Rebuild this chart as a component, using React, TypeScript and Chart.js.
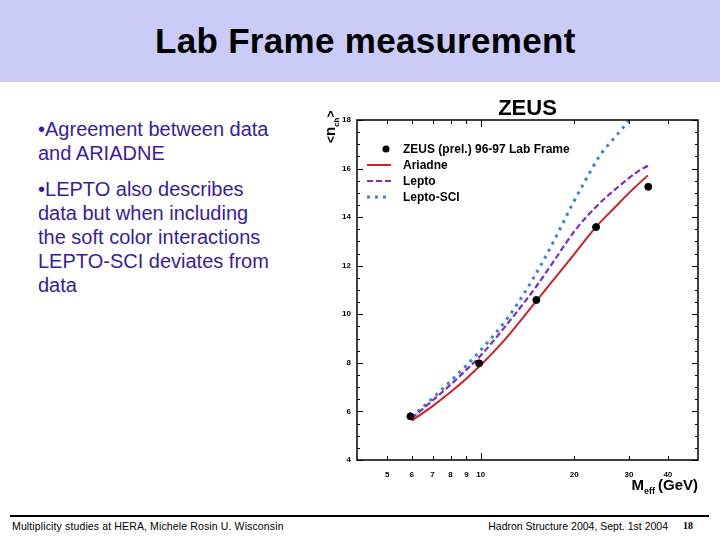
import React, { useEffect, useRef } from "react";
import { Chart, registerables } from "chart.js";

Chart.register(...registerables);

// ZEUS (prel.) 96-97 Lab Frame data
const dataMeff = [5.94, 9.88, 15.1, 23.5, 34.6];
const dataNch = [5.8, 7.98, 10.59, 13.59, 15.25];

// Ariadne
const ariadneMeff = [6, 7, 8, 9, 10, 12, 15, 20, 23.5, 27, 30, 34.5];
const ariadneNch = [5.62, 6.22, 6.8, 7.36, 7.91, 8.98, 10.5, 12.48, 13.6, 14.4, 15.0, 15.72];

// Lepto
const leptoMeff = [6, 7, 8, 9, 10, 12.26, 15, 17, 20.1, 23.6, 27.4, 31.8, 34.5];
const leptoNch = [5.72, 6.45, 7.1, 7.72, 8.3, 9.65, 11.1, 12.1, 13.45, 14.45, 15.2, 15.85, 16.12];

// Lepto-SCI
const leptoSciMeff = [6, 7, 8, 9, 10, 12.26, 13.7, 15.9, 18, 19.85, 21.9, 24.2, 27.4, 29.8, 30.3];
const leptoSciNch = [5.78, 6.54, 7.25, 7.9, 8.52, 9.88, 10.8, 12.2, 13.52, 14.6, 15.6, 16.55, 17.38, 17.93, 18.05];

const seriesLabels = ["ZEUS (prel.) 96-97 Lab Frame", "Ariadne", "Lepto", "Lepto-SCI"];

// axes
const xTickValues = [5, 6, 7, 8, 9, 10, 20, 30, 40];
const xMajorTick = 10;
const xMin = 4;
const xMax = 50;
const yMin = 4;
const yMax = 18;
const yStep = 2;
const yMinorStep = 0.5;

const FONT = '"Liberation Sans", Arial, Helvetica, sans-serif';

const toPts = (xs: number[], ys: number[]) => xs.map((x, i) => ({ x, y: ys[i] }));

const decorPlugin = {
  id: "decor",
  afterDraw(chart: any) {
    const { ctx, chartArea: a, scales } = chart;
    const xs = scales.x;
    const ys = scales.y;
    ctx.save();
    ctx.strokeStyle = "#000";
    ctx.lineWidth = 1.5;
    ctx.strokeRect(a.left, a.top, a.right - a.left, a.bottom - a.top);
    ctx.lineWidth = 1;
    ctx.beginPath();
    for (let v = yMin; v <= yMax + 1e-9; v += yMinorStep) {
      const y = Math.round(ys.getPixelForValue(v)) + 0.5;
      const len = Math.abs(v % yStep) < 1e-9 ? 6 : 3;
      ctx.moveTo(a.left, y);
      ctx.lineTo(a.left + len, y);
      ctx.moveTo(a.right, y);
      ctx.lineTo(a.right - len, y);
    }
    xTickValues.forEach((v) => {
      const x = Math.round(xs.getPixelForValue(v)) + 0.5;
      const len = v === xMajorTick ? 7 : 4;
      ctx.moveTo(x, a.bottom);
      ctx.lineTo(x, a.bottom - len);
      ctx.moveTo(x, a.top);
      ctx.lineTo(x, a.top + len);
    });
    ctx.stroke();

    // heading
    ctx.fillStyle = "#000";
    ctx.font = `bold 22px ${FONT}`;
    ctx.textAlign = "center";
    ctx.textBaseline = "alphabetic";
    ctx.fillText("ZEUS", (a.left + a.right) / 2, a.top - 5);

    // legend
    const ds = chart.data.datasets;
    ctx.font = `bold 12px ${FONT}`;
    ctx.textAlign = "left";
    ctx.textBaseline = "middle";
    ds.forEach((d: any, i: number) => {
      const y = a.top + 29 + i * 16;
      if (i === 0) {
        ctx.beginPath();
        ctx.fillStyle = d.backgroundColor;
        ctx.arc(a.left + 29, y, 3.5, 0, Math.PI * 2);
        ctx.fill();
      } else {
        ctx.beginPath();
        ctx.strokeStyle = d.borderColor;
        ctx.lineWidth = d.borderWidth;
        ctx.setLineDash(d.borderDash || []);
        ctx.moveTo(a.left + 10, y);
        ctx.lineTo(a.left + 34, y);
        ctx.stroke();
        ctx.setLineDash([]);
      }
      ctx.fillStyle = "#000";
      ctx.fillText(d.label, a.left + 46, y + 1);
    });

    // x axis title
    ctx.textBaseline = "alphabetic";
    ctx.textAlign = "left";
    const base = a.bottom + 30;
    ctx.font = `bold 15px ${FONT}`;
    const wGeV = ctx.measureText("(GeV)").width;
    const wM = ctx.measureText("M").width;
    ctx.font = `bold 9px ${FONT}`;
    const wEff = ctx.measureText("eff").width;
    let x = a.right - wGeV;
    ctx.font = `bold 15px ${FONT}`;
    ctx.fillText("(GeV)", x, base);
    x -= 3 + wEff;
    ctx.font = `bold 9px ${FONT}`;
    ctx.fillText("eff", x, base + 4);
    x -= wM;
    ctx.font = `bold 15px ${FONT}`;
    ctx.fillText("M", x, base);

    // y axis title (rotated)
    ctx.save();
    ctx.translate(a.left - 22, a.top + 23);
    ctx.rotate(-Math.PI / 2);
    let t = 0;
    ctx.font = `bold 12px ${FONT}`;
    ctx.fillText("<", t, 0);
    t += ctx.measureText("<").width;
    ctx.font = `bold 15px ${FONT}`;
    ctx.fillText("n", t, 0);
    t += ctx.measureText("n").width;
    ctx.font = `bold 8px ${FONT}`;
    ctx.fillText("ch", t, 4);
    t += ctx.measureText("ch").width;
    ctx.font = `bold 12px ${FONT}`;
    ctx.fillText(">", t, 0);
    ctx.restore();

    ctx.restore();
  },
};

function ZeusChart() {
  const ref = useRef<HTMLCanvasElement | null>(null);
  useEffect(() => {
    if (!ref.current) return;
    const chart = new Chart(ref.current, {
      type: "scatter",
      data: {
        datasets: [
          {
            label: seriesLabels[0],
            data: toPts(dataMeff, dataNch),
            showLine: false,
            pointRadius: 3.5,
            pointBackgroundColor: "#000",
            pointBorderColor: "#000",
            backgroundColor: "#000",
            borderColor: "#000",
          },
          {
            label: seriesLabels[1],
            data: toPts(ariadneMeff, ariadneNch),
            showLine: true,
            pointRadius: 0,
            borderColor: "#cc2226",
            borderWidth: 2,
            cubicInterpolationMode: "monotone",
          },
          {
            label: seriesLabels[2],
            data: toPts(leptoMeff, leptoNch),
            showLine: true,
            pointRadius: 0,
            borderColor: "#7a2cc4",
            borderWidth: 2.2,
            borderDash: [6, 3],
            cubicInterpolationMode: "monotone",
          },
          {
            label: seriesLabels[3],
            data: toPts(leptoSciMeff, leptoSciNch),
            showLine: true,
            pointRadius: 0,
            borderColor: "#3a86c8",
            borderWidth: 3,
            borderDash: [3, 5],
            cubicInterpolationMode: "monotone",
          },
        ],
      },
      options: {
        animation: false,
        responsive: false,
        devicePixelRatio: 1,
        layout: { padding: { top: 35, right: 22, left: 0, bottom: 0 } },
        plugins: {
          legend: { display: false },
          tooltip: { enabled: false },
          title: { display: false },
        },
        scales: {
          x: {
            type: "logarithmic",
            min: xMin,
            max: xMax,
            position: "bottom",
            grid: { display: false, drawTicks: false },
            border: { display: false },
            afterBuildTicks: (s: any) => {
              s.ticks = xTickValues.map((v) => ({ value: v }));
            },
            afterFit: (s: any) => {
              s.height = 45;
            },
            ticks: {
              padding: 10,
              autoSkip: false,
              maxRotation: 0,
              color: "#000",
              font: { family: FONT, size: 8, weight: "bold" },
              callback: (v: any) => String(v),
            },
          },
          y: {
            type: "linear",
            min: yMin,
            max: yMax,
            grid: { display: false, drawTicks: false },
            border: { display: false },
            afterFit: (s: any) => {
              s.width = 57;
            },
            ticks: {
              stepSize: yStep,
              padding: 6,
              color: "#000",
              font: { family: FONT, size: 8, weight: "bold" },
            },
          },
        },
      } as any,
      plugins: [decorPlugin],
    });
    return () => chart.destroy();
  }, []);
  return (
    <canvas
      ref={ref}
      width={420}
      height={420}
      style={{ position: "absolute", left: 300, top: 85, width: 420, height: 420 }}
    />
  );
}

export default function App() {
  const textColor = "#3a1c9a";
  return (
    <div
      style={{
        position: "fixed",
        left: 0,
        top: 0,
        width: 720,
        height: 540,
        background: "#fff",
        overflow: "hidden",
        fontFamily: FONT,
      }}
    >
      <div style={{ position: "absolute", left: 0, top: 0, width: 720, height: 82, background: "#cbcbf8" }} />
      <div
        style={{
          position: "absolute",
          left: 155,
          top: 21,
          fontSize: 35,
          fontWeight: "bold",
          lineHeight: "40px",
          whiteSpace: "nowrap",
          color: "#000",
          letterSpacing: "0.3px",
        }}
      >
        Lab Frame measurement
      </div>
      <div
        style={{
          position: "absolute",
          left: 38,
          top: 117,
          fontSize: 20,
          lineHeight: "24px",
          color: textColor,
          whiteSpace: "nowrap",
        }}
      >
        •Agreement between data
        <br />
        and ARIADNE
      </div>
      <div
        style={{
          position: "absolute",
          left: 38,
          top: 177,
          fontSize: 20,
          lineHeight: "24px",
          color: textColor,
          whiteSpace: "nowrap",
        }}
      >
        •LEPTO also describes
        <br />
        data but when including
        <br />
        the soft color interactions
        <br />
        LEPTO-SCI deviates from
        <br />
        data
      </div>
      <ZeusChart />
      <div style={{ position: "absolute", left: 10, top: 515, width: 699, height: 2, background: "#000" }} />
      <div
        style={{
          position: "absolute",
          left: 12,
          top: 520,
          fontSize: 10.5,
          lineHeight: "12px",
          whiteSpace: "nowrap",
          color: "#000",
          letterSpacing: "0.13px",
        }}
      >
        Multiplicity studies at HERA, Michele Rosin U. Wisconsin
      </div>
      <div
        style={{
          position: "absolute",
          right: 52,
          top: 520,
          fontSize: 10.5,
          lineHeight: "12px",
          whiteSpace: "nowrap",
          color: "#000",
          textAlign: "right",
        }}
      >
        Hadron Structure 2004, Sept. 1st 2004
      </div>
      <div
        style={{
          position: "absolute",
          left: 683,
          top: 520,
          fontSize: 10,
          lineHeight: "12px",
          fontWeight: "bold",
          fontFamily: '"Liberation Serif", "DejaVu Serif", serif',
          color: "#000",
        }}
      >
        18
      </div>
    </div>
  );
}
